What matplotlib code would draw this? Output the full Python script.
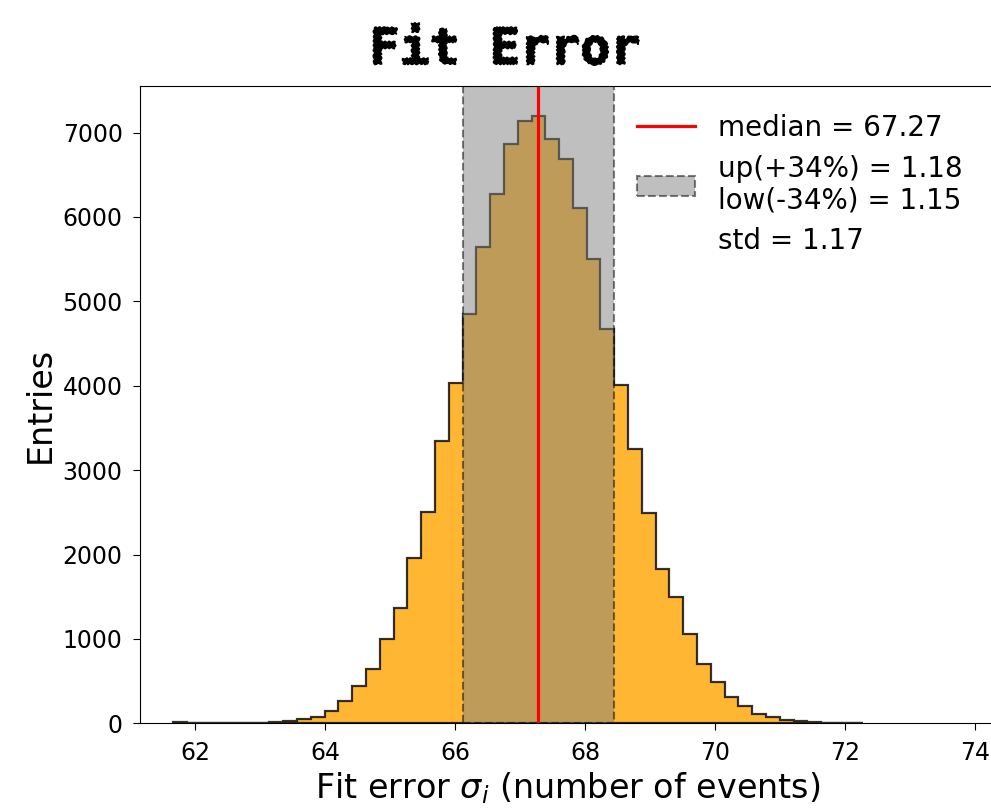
import matplotlib
matplotlib.use("Agg")
import matplotlib.pyplot as plt
import matplotlib.patheffects as pe
from matplotlib.lines import Line2D
import numpy as np

# histogram of the fit error, 50 bins
bin_lo, bin_hi, n_bins = 61.66, 72.27, 50
counts = [10, 0, 0, 2, 3, 4, 7, 15, 27, 47,
          79, 150, 268, 442, 647, 995, 1370, 1955, 2500, 3349,
          4036, 4846, 5647, 6268, 6860, 7140, 7191, 6927, 6690, 6102,
          5501, 4676, 4008, 3250, 2496, 1832, 1493, 1054, 699, 493,
          308, 200, 110, 79, 39, 22, 14, 9, 4, 3]

median = 67.27
up = 1.18
low = 1.15
std = 1.17


class Rough(pe.AbstractPathEffect):
    """draw the text path with a little sketchy jitter"""
    def draw_path(self, renderer, gc, tpath, affine, rgbFace=None):
        gc0 = renderer.new_gc()
        gc0.copy_properties(gc)
        gc0.set_sketch_params(0.7, 5, 2)
        gc0.set_linewidth(1.0)
        gc0.set_foreground('k')
        renderer.draw_path(gc0, tpath, affine, rgbFace)
        gc0.restore()


edges = np.linspace(bin_lo, bin_hi, n_bins + 1)
centers = 0.5 * (edges[:-1] + edges[1:])

fig = plt.figure(figsize=(9.91, 8.11), dpi=100)
# the original is cropped on the right, so the axes run past the figure edge
ax = fig.add_axes([140 / 991, 1 - 723.3 / 811, 960 / 991, (723.3 - 85.7) / 811])
ax.spines['right'].set_visible(False)

ax.hist(centers, bins=edges, weights=counts, histtype='stepfilled',
        color='orange', alpha=0.8, ec='k', lw=1.6)
band = ax.axvspan(median - low, median + up, facecolor='gray', edgecolor='k',
                  alpha=0.5, ls='--', lw=1.5,
                  label='up(+34%%) = %.2f\nlow(-34%%) = %.2f' % (up, low))
med_line = ax.axvline(median, color='red', lw=2.3, label='median = %.2f' % median)
std_handle = Line2D([], [], color='none', label='std = %.2f' % std)

ax.set_xlim(61.154, 61.154 + 960 / 65)
ax.set_ylim(0, 7555)
ax.set_xticks([62, 64, 66, 68, 70, 72, 74])
ax.tick_params(labelsize=17, length=5, pad=7.5)
ax.set_xlabel(r'Fit error $\sigma_i$ (number of events)', fontsize=24)
ax.xaxis.set_label_coords((568 - 140) / 960, -0.074)
ax.set_ylabel('Entries', fontsize=24)

ax.legend(handles=[med_line, band, std_handle], loc='upper left',
          bbox_to_anchor=(637 / 991, 1 - 114 / 811), bbox_transform=fig.transFigure,
          frameon=False, fontsize=20, borderpad=0, borderaxespad=0,
          handlelength=2.1, handleheight=0.75, handletextpad=0.8, labelspacing=0.45)

fig.text(505 / 991, 1 - 50 / 811, 'Fit Error', ha='center', va='center',
         fontsize=36, family='DejaVu Sans Mono', weight='bold',
         path_effects=[Rough()])

fig.savefig('out.png', dpi=100)
